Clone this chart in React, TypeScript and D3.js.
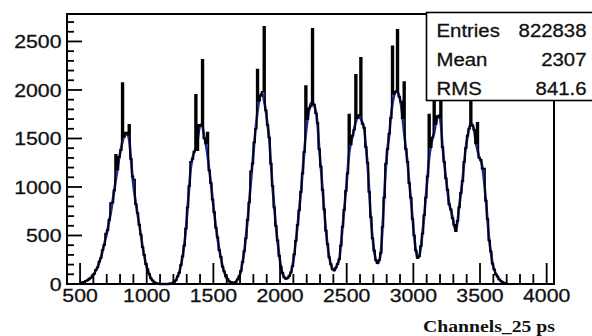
import React from "react";
import * as d3 from "d3";

// Histogram: bins of 12.5 channels starting at channel 500
const binStart = 500;
const binWidth = 12.5;
const counts = [
  8, 16, 20, 32, 38, 55, 62, 88,
  105, 145, 170, 230, 268, 350, 400, 520,
  555, 660, 835, 840, 965, 1330, 1180, 1310,
  1380, 2070, 1520, 1560, 1540, 1640, 1290, 1110,
  1075, 820, 730, 610, 510, 380, 300, 205,
  150, 105, 58, 38, 18, 12, 4, 2,
  0, 0, 0, 0, 0, 2, 6, 10,
  22, 38, 78, 115, 195, 285, 395, 570,
  790, 1010, 1260, 1290, 1365, 1950, 1380, 1640,
  1630, 2310, 1500, 1450, 1560, 1170, 1040, 870,
  740, 580, 480, 350, 280, 180, 130, 75,
  52, 28, 20, 12, 14, 22, 48, 78,
  135, 225, 340, 470, 660, 840, 1160, 1240,
  1460, 1600, 2210, 1890, 1940, 1980, 2650, 1790,
  1640, 1510, 1240, 1010, 790, 600, 450, 290,
  180, 115, 68, 55, 62, 82, 120, 185,
  305, 445, 610, 760, 950, 1140, 1360, 2040,
  1700, 1810, 1830, 2630, 1850, 1760, 1660, 1390,
  1210, 970, 770, 550, 410, 275, 205, 150,
  140, 170, 205, 255, 395, 590, 765, 960,
  1140, 1745, 1440, 1530, 1590, 2155, 1710, 1740,
  2330, 1650, 1610, 1410, 1250, 950, 690, 470,
  345, 245, 215, 245, 320, 590, 890, 1240,
  1390, 1550, 1710, 2450, 1960, 1980, 2620, 1930,
  1880, 1710, 2080, 1390, 1260, 1040, 890, 670,
  500, 345, 270, 285, 390, 520, 710, 890,
  1110, 1745, 1410, 1510, 1950, 1650, 1730, 1720,
  2050, 1410, 1260, 1090, 970, 820, 770, 680,
  610, 545, 650, 790, 940, 1060, 1260, 1400,
  1530, 1600, 2200, 1630, 1590, 1450, 1660, 1300,
  1280, 1190, 1190, 860, 670, 450, 335, 210,
  150, 100, 78, 48, 33, 18, 12, 5,
  0,
];
// Smooth (blue) curve through the same bins
const smooth = [
  10, 15, 22, 30, 40, 52, 65, 85,
  110, 140, 175, 220, 275, 340, 410, 480,
  560, 650, 740, 850, 960, 1080, 1190, 1300,
  1390, 1470, 1530, 1555, 1545, 1480, 1300, 1100,
  950, 830, 720, 620, 500, 390, 290, 210,
  150, 100, 60, 35, 20, 10, 5, 2,
  0, 0, 0, 0, 0, 2, 5, 10,
  20, 40, 75, 120, 190, 280, 400, 560,
  780, 1000, 1200, 1300, 1360, 1400, 1480, 1600,
  1640, 1620, 1520, 1440, 1330, 1180, 1040, 880,
  730, 590, 470, 360, 270, 185, 125, 80,
  50, 30, 18, 12, 12, 25, 45, 80,
  130, 230, 330, 480, 650, 850, 1050, 1250,
  1450, 1620, 1780, 1900, 1960, 1960, 1880, 1780,
  1640, 1500, 1250, 1000, 800, 600, 440, 300,
  180, 110, 70, 55, 60, 85, 115, 190,
  300, 450, 600, 770, 940, 1150, 1350, 1550,
  1700, 1800, 1860, 1870, 1840, 1780, 1650, 1400,
  1200, 980, 760, 560, 400, 280, 200, 155,
  140, 165, 210, 250, 400, 580, 770, 950,
  1150, 1350, 1450, 1520, 1600, 1670, 1720, 1730,
  1700, 1660, 1600, 1420, 1240, 960, 680, 480,
  340, 250, 215, 240, 330, 580, 900, 1200,
  1400, 1530, 1720, 1860, 1950, 1990, 1980, 1940,
  1860, 1720, 1550, 1400, 1250, 1050, 880, 680,
  490, 350, 270, 290, 380, 530, 700, 900,
  1100, 1300, 1420, 1500, 1560, 1660, 1720, 1740,
  1650, 1420, 1250, 1100, 960, 830, 760, 690,
  600, 550, 640, 800, 930, 1070, 1250, 1410,
  1520, 1610, 1650, 1640, 1580, 1460, 1380, 1310,
  1270, 1200, 1050, 870, 660, 460, 330, 215,
  150, 105, 75, 50, 32, 20, 12, 6,
  0,
];
const xMajorTicks = [500, 1000, 1500, 2000, 2500, 3000, 3500, 4000];
const yMajorTicks = [0, 500, 1000, 1500, 2000, 2500];
const statsLabels = ["Entries", "Mean", "RMS"];
const statsValues = ["822838", "2307", "841.6"];
const xTitle = "Channels_25 ps";

const W = 592;
const H = 336;
const L = 67, R = 554, T = 14, B = 284;

export default function App() {
  const x = d3.scaleLinear().domain([402, 4055]).range([L, R]);
  const y = d3.scaleLinear().domain([0, 2783]).range([B, T]);

  const pts: [number, number][] = [[x(binStart), y(0)]];
  counts.forEach((c, i) => {
    const x0 = binStart + i * binWidth;
    pts.push([x(x0), y(c)]);
    pts.push([x(x0 + binWidth), y(c)]);
  });
  pts.push([x(binStart + counts.length * binWidth), y(0)]);
  const stepPath = d3.line()(pts) || "";

  const smoothPath =
    d3
      .line<number>()
      .x((_, i) => x(binStart + (i + 0.5) * binWidth))
      .y((d) => y(d))
      .curve(d3.curveMonotoneX)(smooth) || "";

  const xMinor = d3.range(500, 4055, 100).filter((v) => v % 500 !== 0);
  const yMinor = d3.range(0, 2783, 100).filter((v) => v % 500 !== 0);

  const font = "'Liberation Sans', Arial, Helvetica, sans-serif";

  return (
    <svg
      width={W}
      height={H}
      style={{ position: "absolute", left: 0, top: 0, background: "#fff" }}
    >
      <rect x={0} y={0} width={W} height={H} fill="#fff" />
      <path d={smoothPath} fill="none" stroke="#1c2a9c" strokeWidth={2.6} />
      <path d={stepPath} fill="none" stroke="#000" strokeWidth={1.7} strokeLinejoin="miter" />

      <rect x={L} y={T} width={R - L} height={B - T} fill="none" stroke="#000" strokeWidth={2} />

      {xMajorTicks.map((v) => (
        <line key={"xM" + v} x1={x(v)} x2={x(v)} y1={B} y2={B - 21} stroke="#000" strokeWidth={1.8} />
      ))}
      {xMinor.map((v) => (
        <line key={"xm" + v} x1={x(v)} x2={x(v)} y1={B} y2={B - 10} stroke="#000" strokeWidth={1.8} />
      ))}
      {yMajorTicks.map((v) => (
        <line key={"yM" + v} x1={L} x2={L + 15} y1={y(v)} y2={y(v)} stroke="#000" strokeWidth={1.8} />
      ))}
      {yMinor.map((v) => (
        <line key={"ym" + v} x1={L} x2={L + 7} y1={y(v)} y2={y(v)} stroke="#000" strokeWidth={1.8} />
      ))}

      {xMajorTicks.map((v) => (
        <text
          key={"xl" + v}
          transform={`translate(${x(v)},${302}) scale(1.12,1)`}
          textAnchor="middle"
          fontFamily={font}
          fontSize={19}
          fill="#111"
          stroke="#111"
          strokeWidth={0.3}
        >
          {v}
        </text>
      ))}
      {yMajorTicks.map((v) => (
        <text
          key={"yl" + v}
          transform={`translate(${61.5},${y(v) + 7}) scale(1.12,1)`}
          textAnchor="end"
          fontFamily={font}
          fontSize={19}
          fill="#111"
          stroke="#111"
          strokeWidth={0.3}
        >
          {v}
        </text>
      ))}

      <text
        x={423}
        y={331.5}
        fontFamily="'Liberation Serif', 'Times New Roman', serif"
        fontWeight="bold"
        fontSize={16.5}
        textLength={132}
        lengthAdjust="spacingAndGlyphs"
        fill="#111"
      >
        {xTitle}
      </text>

      <rect x={426.5} y={12.5} width={180} height={88} fill="#fff" stroke="#000" strokeWidth={1.6} />
      {statsLabels.map((s, i) => (
        <text
          key={"sl" + s}
          transform={`translate(436.5,${36.5 + i * 29.2}) scale(1.1,1)`}
          fontFamily={font}
          fontSize={18.5}
          fill="#111"
          stroke="#111"
          strokeWidth={0.3}
        >
          {s}
        </text>
      ))}
      {statsValues.map((s, i) => (
        <text
          key={"sv" + s}
          transform={`translate(586.5,${36.5 + i * 29.2}) scale(1.1,1)`}
          textAnchor="end"
          fontFamily={font}
          fontSize={18.5}
          fill="#111"
          stroke="#111"
          strokeWidth={0.3}
        >
          {s}
        </text>
      ))}
    </svg>
  );
}
